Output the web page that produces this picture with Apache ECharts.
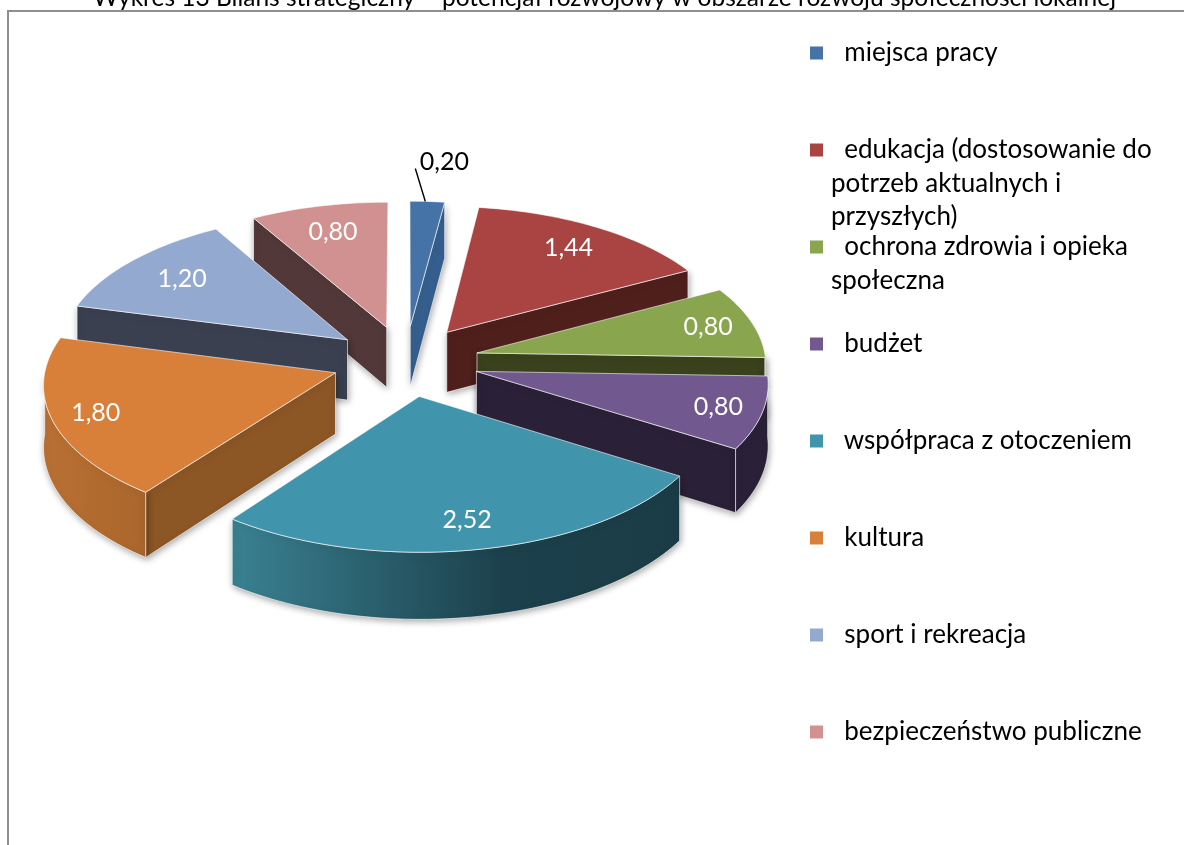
<!DOCTYPE html>
<html>
<head>
<meta charset="utf-8">
<title>Wykres 13</title>
<script src="https://cdn.jsdelivr.net/npm/echarts@6/dist/echarts.min.js"></script>
<style>
  html, body { margin: 0; padding: 0; background: #fff; }
  #main { width: 1184px; height: 845px; }
</style>
</head>
<body>
<div id="main"></div>
<script>
  var titleText = 'Wykres 13 Bilans strategiczny – potencjał rozwojowy w obszarze rozwoju społeczności lokalnej'
  var categories = [
    'miejsca pracy',
    'edukacja (dostosowanie do\npotrzeb aktualnych i\nprzyszłych)',
    'ochrona zdrowia i opieka\nspołeczna',
    'budżet',
    'współpraca z otoczeniem',
    'kultura',
    'sport i rekreacja',
    'bezpieczeństwo publiczne'
  ]
  var values = [0.20, 1.44, 0.80, 0.80, 2.52, 1.80, 1.20, 0.80]

  var topColors = ['#4572a7', '#a94442', '#89a54e', '#71588f', '#4095ad', '#d8803a', '#93a9cf', '#d09190']
  var edgeColors = ['#355f8e', '#4f1f1c', '#39421c', '#2a2138', '#1f4a56', '#8c5625', '#3a4050', '#523838']
  var wallFrom = ['#355f8e', '#4f1f1c', '#39421c', '#2a2138', '#3a8192', '#ba7034', '#3a4050', '#523838']
  var wallMid = ['#355f8e', '#4f1f1c', '#39421c', '#2a2138', '#1c414c', '#b06a2e', '#3a4050', '#523838']
  var wallTo = ['#355f8e', '#4f1f1c', '#39421c', '#2a2138', '#1a3c47', '#a9662c', '#3a4050', '#523838']
  // jak daleko od wierzcholka wycinka stoi etykieta
  var labelRadius = [1, 0.8, 0.84, 0.85, 0.82, 0.85, 0.76, 0.78]

  // rzut "3d" kola: srodek, promienie, perspektywa, wysokosc, rozsuniecie
  var pie = { cx: 405.5, cy: 361, rx: 289, ry: 139, persp: 13.75, depth: 61, explode: 0.255 }
  var legendLine = 33.5
  var legendFont = 'Lato, "Open Sans", sans-serif'
  var rad = Math.PI / 180
  var total = values.reduce(function (a, b) { return a + b }, 0)

  function project (u, v, lift) {
    var p = pie.persp / (pie.persp + v)
    return [pie.cx + pie.rx * u * p, pie.cy - pie.ry * v * p + pie.depth * p * lift]
  }

  // kat poczatku i konca kazdego wycinka liczony z wartosci
  var slices = []
  values.reduce(function (start, val, i) {
    var end = start + val / total * 360
    var mid = (start + end) / 2
    slices.push({
      index: i,
      start: start,
      end: end,
      mid: mid,
      ou: pie.explode * Math.sin(mid * rad),
      ov: pie.explode * Math.cos(mid * rad)
    })
    return end
  }, 0)

  function point (s, angle, r, lift) {
    return project(s.ou + r * Math.sin(angle * rad), s.ov + r * Math.cos(angle * rad), lift)
  }

  function arcPoints (s, from, to, lift) {
    var pts = []
    var n = Math.max(2, Math.ceil((to - from) / 1.5))
    for (var k = 0; k <= n; k++) {
      pts.push(point(s, from + (to - from) * k / n, 1, lift))
    }
    return pts
  }

  function face (points, fill) {
    return {
      type: 'polygon',
      shape: { points: points },
      style: {
        fill: fill,
        stroke: 'rgba(255,255,255,0.75)',
        lineWidth: 0.8,
        shadowBlur: 7,
        shadowColor: 'rgba(0,0,0,0.35)',
        shadowOffsetX: 1,
        shadowOffsetY: 2
      }
    }
  }

  function renderSlice (s) {
    var i = s.index
    var kids = []
    // sciana radialna
    if (s.start > 180) {
      kids.push(face([point(s, 0, 0, 0), point(s, s.start, 1, 0), point(s, s.start, 1, 1), point(s, 0, 0, 1)], edgeColors[i]))
    }
    if (s.end < 180) {
      kids.push(face([point(s, 0, 0, 0), point(s, s.end, 1, 0), point(s, s.end, 1, 1), point(s, 0, 0, 1)], edgeColors[i]))
    }
    // sciana zewnetrzna, tylko przednia polowa
    var from = Math.max(s.start, 90)
    var to = Math.min(s.end, 270)
    if (to > from) {
      var wall = arcPoints(s, from, to, 0).concat(arcPoints(s, from, to, 1).reverse())
      kids.push(face(wall, {
        type: 'linear', x: 0, y: 0, x2: 1, y2: 0,
        colorStops: [
          { offset: 0, color: wallFrom[i] },
          { offset: 0.6, color: wallMid[i] },
          { offset: 1, color: wallTo[i] }
        ]
      }))
    }
    // wierzch
    var top = face([point(s, 0, 0, 0)].concat(arcPoints(s, s.start, s.end, 0)), topColors[i])
    top.style.shadowBlur = 0
    top.style.shadowColor = 'transparent'
    top.style.shadowOffsetX = 0
    top.style.shadowOffsetY = 0
    kids.push(top)

    // etykieta wartosci
    var text = values[i].toFixed(2).replace('.', ',')
    var small = values[i] / total < 0.05
    var lp
    if (small) {
      var rim = point(s, s.mid, 1, 0)
      lp = [rim[0] + 17, rim[1] - 40]
      kids.push({
        type: 'line',
        shape: { x1: rim[0] - 2, y1: rim[1], x2: rim[0] - 12, y2: rim[1] - 33 },
        style: { stroke: '#000', lineWidth: 1.4 }
      })
    } else {
      lp = point(s, s.mid, labelRadius[i], 0)
    }
    kids.push({
      type: 'text',
      x: lp[0],
      y: lp[1],
      style: {
        text: text,
        fill: small ? '#000' : '#fff',
        font: '25px ' + legendFont,
        align: 'center',
        verticalAlign: 'middle'
      }
    })
    return { type: 'group', children: kids }
  }

  // tyl rysowany najpierw, przod na wierzchu
  var depthRank = slices.slice().sort(function (a, b) {
    return Math.cos(b.mid * rad) - Math.cos(a.mid * rad)
  }).map(function (s) { return s.index })

  // legenda centruje znacznik na calym tekscie, wiec kolejne wiersze ida osobno
  var legendExtra = []
  categories.forEach(function (name, i) {
    name.split('\n').slice(1).forEach(function (line, k) {
      legendExtra.push({
        type: 'text',
        x: 831,
        y: 53 + i * 97 + (k + 1) * legendLine,
        style: { text: line, fill: '#000', font: '26px ' + legendFont, verticalAlign: 'middle' }
      })
    })
  })

  var option = {
    animation: false,
    title: {
      text: titleText,
      left: 88,
      top: -19,
      textStyle: { color: '#000', fontWeight: 'normal', fontFamily: legendFont, fontSize: 24.5 }
    },
    graphic: [{
      type: 'polyline',
      shape: { points: [[8, 845], [8, 11], [1184, 11]] },
      style: { stroke: '#8f8f8f', lineWidth: 2, fill: 'none' }
    }].concat(legendExtra),
    legend: categories.map(function (name, i) {
      return {
        data: [name],
        left: 810,
        top: 53 + i * 97 - 17,
        padding: 0,
        orient: 'vertical',
        icon: 'rect',
        itemWidth: 13,
        itemHeight: 13,
        itemGap: 0,
        selectedMode: false,
        align: 'left',
        formatter: function (n) { return '\u00a0\u00a0' + n.split('\n')[0] },
        textStyle: {
          color: '#000',
          fontFamily: legendFont,
          fontSize: 26,
          lineHeight: 34,
          padding: [0, 0, 0, 3]
        }
      }
    }),
    series: slices.map(function (s) {
      return {
        name: categories[s.index],
        type: 'custom',
        coordinateSystem: 'none',
        z: 2 + depthRank.indexOf(s.index),
        itemStyle: { color: topColors[s.index] },
        data: [[values[s.index]]],
        renderItem: function () { return renderSlice(s) }
      }
    })
  }

  var chart = echarts.init(document.getElementById('main'))
  chart.setOption(option)
  window.addEventListener('resize', function () {
    chart.resize()
  })
</script>
</body>
</html>
